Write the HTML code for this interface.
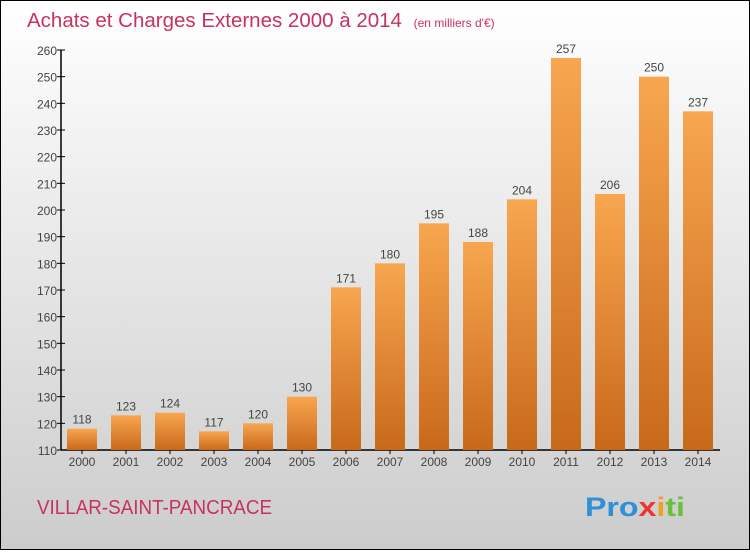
<!DOCTYPE html>
<html><head><meta charset="utf-8"><style>
body{margin:0;width:750px;height:550px;overflow:hidden;font-family:"Liberation Sans",sans-serif}
</style></head><body>
<svg width="750" height="550" xmlns="http://www.w3.org/2000/svg">
<defs>
<linearGradient id="bg" x1="0" y1="0" x2="0" y2="1"><stop offset="0" stop-color="#ffffff"/><stop offset="1" stop-color="#cccccc"/></linearGradient>
<linearGradient id="bar" x1="0" y1="0" x2="0" y2="1"><stop offset="0" stop-color="#f8a650"/><stop offset="1" stop-color="#c8691a"/></linearGradient>
</defs>
<rect x="0.5" y="0.5" width="749" height="549" fill="url(#bg)" stroke="#000"/>
<text x="27" y="27" font-size="20.5" fill="#c8325e">Achats et Charges Externes 2000 à 2014 <tspan font-size="12" dx="6">(en milliers d'€)</tspan></text>
<g id="axes"></g>
<g id="bars"></g>
<text x="37" y="514" font-size="20" textLength="235" lengthAdjust="spacingAndGlyphs" fill="#c8325e">VILLAR-SAINT-PANCRACE</text>
<g font-size="27" font-weight="bold">
<text x="585" y="516" textLength="100" lengthAdjust="spacingAndGlyphs"><tspan fill="#2f8fd8">Pro</tspan><tspan fill="#e33">x</tspan><tspan fill="#f0a020">i</tspan><tspan fill="#6cbf3a">ti</tspan></text>
</g>
</svg>
<script>
const years=["2000","2001","2002","2003","2004","2005","2006","2007","2008","2009","2010","2011","2012","2013","2014"];
const values=[118,123,124,117,120,130,171,180,195,188,204,257,206,250,237];
const yTicks=[110,120,130,140,150,160,170,180,190,200,210,220,230,240,250,260];
const NS="http://www.w3.org/2000/svg";
const y=v=>450-(v-110)*400/150;
const x=i=>82+i*44;
function el(t,a,p){const e=document.createElementNS(NS,t);for(const k in a)e.setAttribute(k,a[k]);p.appendChild(e);return e;}
const ax=document.getElementById('axes'),bg=document.getElementById('bars');
yTicks.forEach(v=>{
 const t=el('text',{x:57,y:y(v)+5,'font-size':12,fill:'#444','text-anchor':'end'},ax);t.textContent=v;
 
 
 const l=el('line',{x1:57,x2:65,y1:y(v),y2:y(v),stroke:'#000'},ax);
 
 
});
years.forEach((yr,i)=>{
 const r=el('rect',{x:x(i)-15,y:y(values[i]),width:30,height:450-y(values[i]),fill:'url(#bar)'},bg);
 
 
 const vt=el('text',{x:x(i),y:y(values[i])-5,'font-size':12,fill:'#444','text-anchor':'middle'},bg);vt.textContent=values[i];
 
 
 const xt=el('text',{x:x(i),y:466,'font-size':12,fill:'#444','text-anchor':'middle'},ax);xt.textContent=yr;
 
 
 const tk=el('line',{x1:x(i),x2:x(i),y1:450,y2:454,stroke:'#000'},ax);
 
 
});
const ya=el('line',{x1:61,x2:61,y1:50,y2:450,stroke:'#000','stroke-width':1.5},ax);


const xa=el('line',{x1:61,x2:720,y1:450,y2:450,stroke:'#000','stroke-width':1.5},ax);


</script>
</body></html>
